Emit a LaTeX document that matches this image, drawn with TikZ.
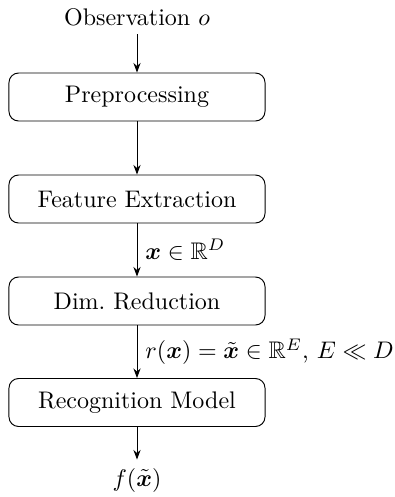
\documentclass[tikz,border=0pt]{standalone}
\usepackage{amsmath,amssymb,bm}
\usetikzlibrary{arrows.meta}
\begin{document}
\begin{tikzpicture}[x=0.4167pt,y=-0.4167pt,
  stage/.style={draw, rounded corners=4pt, minimum width=106.7pt, minimum height=20pt, inner sep=0pt},
  flow/.style={-{Stealth[length=4pt,width=3pt]}}]
\useasboundingbox (0,0) rectangle (394,497);
\node (obs) at (137,17) {Observation $o$};
\node[stage] (pre) at (137,97) {Preprocessing};
\node[stage] (fe) at (137,199) {Feature Extraction};
\node[stage] (dr) at (137,301) {Dim.\ Reduction};
\node[stage] (rm) at (137,402.5) {Recognition Model};
\node (out) at (137,480) {$f(\tilde{\bm{x}})$};
\draw[flow] (obs) -- (pre);
\draw[flow] (pre) -- (fe);
\draw[flow] (fe) -- node[right] {$\bm{x}\in\mathbb{R}^D$} (dr);
\draw[flow] (dr) -- node[right] {$r(\bm{x})=\tilde{\bm{x}}\in\mathbb{R}^E$, $E\ll D$} (rm);
\draw[flow] (rm) -- (out);
\end{tikzpicture}
\end{document}
